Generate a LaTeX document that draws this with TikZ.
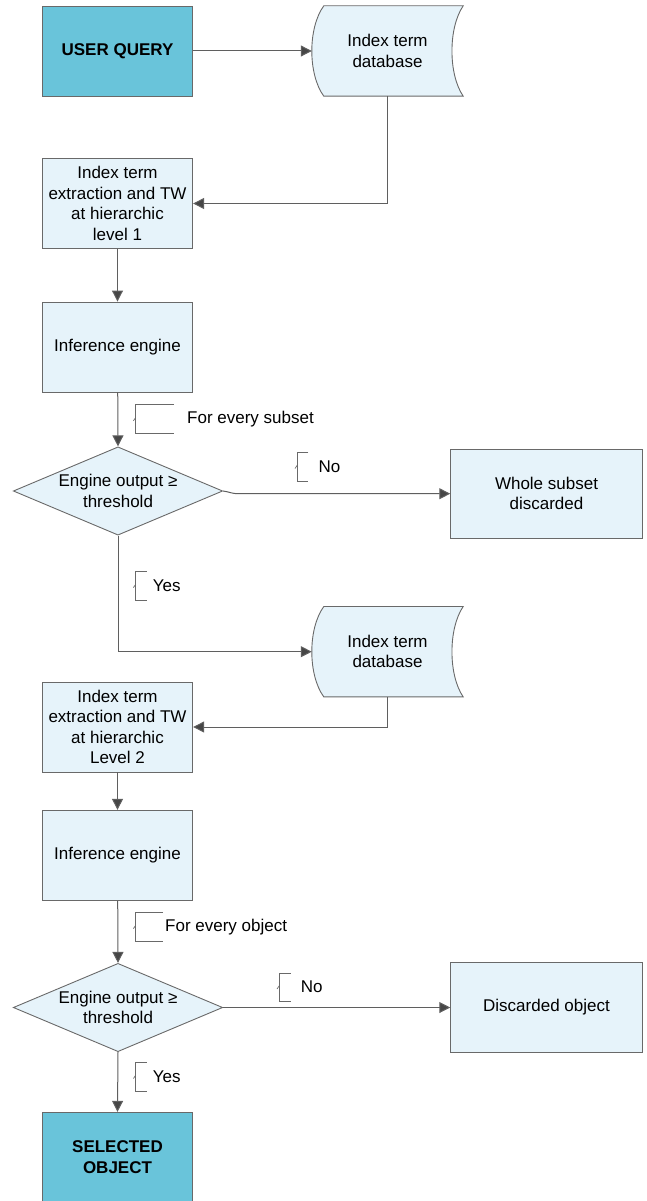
\documentclass[tikz,border=0pt]{standalone}
\usepackage{fontspec}
\setmainfont{Liberation Sans}
\usetikzlibrary{shapes.geometric,arrows.meta,backgrounds}

\definecolor{lightfill}{RGB}{230,243,250}
\definecolor{darkfill}{RGB}{105,196,218}
\definecolor{edge}{RGB}{105,105,105}
\definecolor{linegrey}{RGB}{95,95,95}
\definecolor{tipgrey}{RGB}{70,70,70}

\begin{document}
\begin{tikzpicture}[x=1pt,y=-1pt,
  every node/.style={font=\fontsize{17}{20.4}\selectfont, text=black},
  box/.style={draw=edge, line width=0.9pt, fill=lightfill, minimum width=150.4pt,
    minimum height=90pt, inner sep=1pt, align=center},
  endbox/.style={box, fill=darkfill, font=\fontsize{17}{20.4}\selectfont\bfseries},
  sidebox/.style={box, minimum width=191.6pt, minimum height=89.3pt},
  decision/.style={diamond, draw=edge, line width=0.9pt, fill=lightfill,
    minimum width=209.4pt, minimum height=88.3pt, inner sep=0pt, aspect=2.37},
  store/.style={minimum width=151pt, minimum height=90pt, inner sep=0pt, align=center},
  storeshape/.style={draw=edge, line width=0.9pt, fill=lightfill},
  flow/.style={draw=linegrey, line width=1pt,
    -{Triangle[length=11pt,width=11pt,fill=tipgrey]}},
  note/.style={anchor=west, inner sep=0pt},
  bracket/.style={draw=edge, line width=0.7pt}
]
\useasboundingbox (0,0) rectangle (647,1201);

% ---------- level 1 ----------
\node[endbox] (uq) at (117.5,51) {USER QUERY};
\node[store] (db1) at (387.5,51) {Index term\\database};
\node[box] (ex1) at (117.5,203.5) {Index term\\extraction and TW\\at hierarchic\\level 1};
\node[box] (ie1) at (117.5,347) {Inference engine};
\node[decision, label={[align=center]center:Engine output ≥\\threshold}] (d1) at (118,491) {};
\node[sidebox] (ws) at (546.5,493.7) {Whole subset\\discarded};

% ---------- level 2 ----------
\node[store] (db2) at (387.5,651.7) {Index term\\database};
\node[box] (ex2) at (117.5,727) {Index term\\extraction and TW\\at hierarchic\\Level 2};
\node[box] (ie2) at (117.5,855.3) {Inference engine};
\node[decision, label={[align=center]center:Engine output ≥\\threshold}] (d2) at (118,1007.5) {};
\node[sidebox] (dob) at (546.5,1007.5) {Discarded object};
\node[endbox] (sel) at (117.5,1157.3) {SELECTED\\OBJECT};

% stored-data outlines behind the database labels
\begin{scope}[on background layer]
  \foreach \s in {db1,db2}{
    \path[storeshape] ([xshift=12pt]\s.north west) -- (\s.north east)
      .. controls +(-15,22) and +(-15,-22) .. (\s.south east)
      -- ([xshift=12pt]\s.south west)
      .. controls +(-16,-22) and +(-16,22) .. ([xshift=12pt]\s.north west) -- cycle;
  }
\end{scope}

% ---------- connectors ----------
\draw[flow] (uq) -- (db1.west);
\draw[flow] (db1.south) |- (ex1.east);
\draw[flow] (ex1) -- (ie1);
\draw[flow] (ie1) -- (d1.north);
\draw[flow] (d1.east) .. controls +(7,1) and +(-8,0) .. ([xshift=16pt]d1.east |- ws.west) -- (ws.west);
\draw[flow] (d1.south) |- (db2.west);
\draw[flow] (db2.south) |- (ex2.east);
\draw[flow] (ex2) -- (ie2);
\draw[flow] (ie2) -- (d2.north);
\draw[flow] (d2.east) -- (dob.west);
\draw[flow] (d2.south) -- (sel.north);

% ---------- annotations: bracket x, centre y, arm length, text x, text ----------
\foreach \n/\x/\y/\w/\tx/\t in {a1/135.7/419/38.3/187/For every subset,
                                a2/297.3/466.7/11/318.3/No,
                                a3/135.7/585.8/11/152.7/Yes,
                                a4/135.7/926.8/27.3/165/For every object,
                                a5/279.3/987.2/11.4/300.7/No,
                                a6/135.7/1076.7/11/152.7/Yes}{
  \draw[bracket] (\x+\w,\y-14.3) -- (\x,\y-14.3) -- (\x,\y+14.3) -- (\x+\w,\y+14.3);
  \draw[bracket] (\x,\y-1.5) -- (\x-2.3,\y+1.8);
  \node[note] (\n) at (\tx,\y) {\t};
}
\end{tikzpicture}
\end{document}
